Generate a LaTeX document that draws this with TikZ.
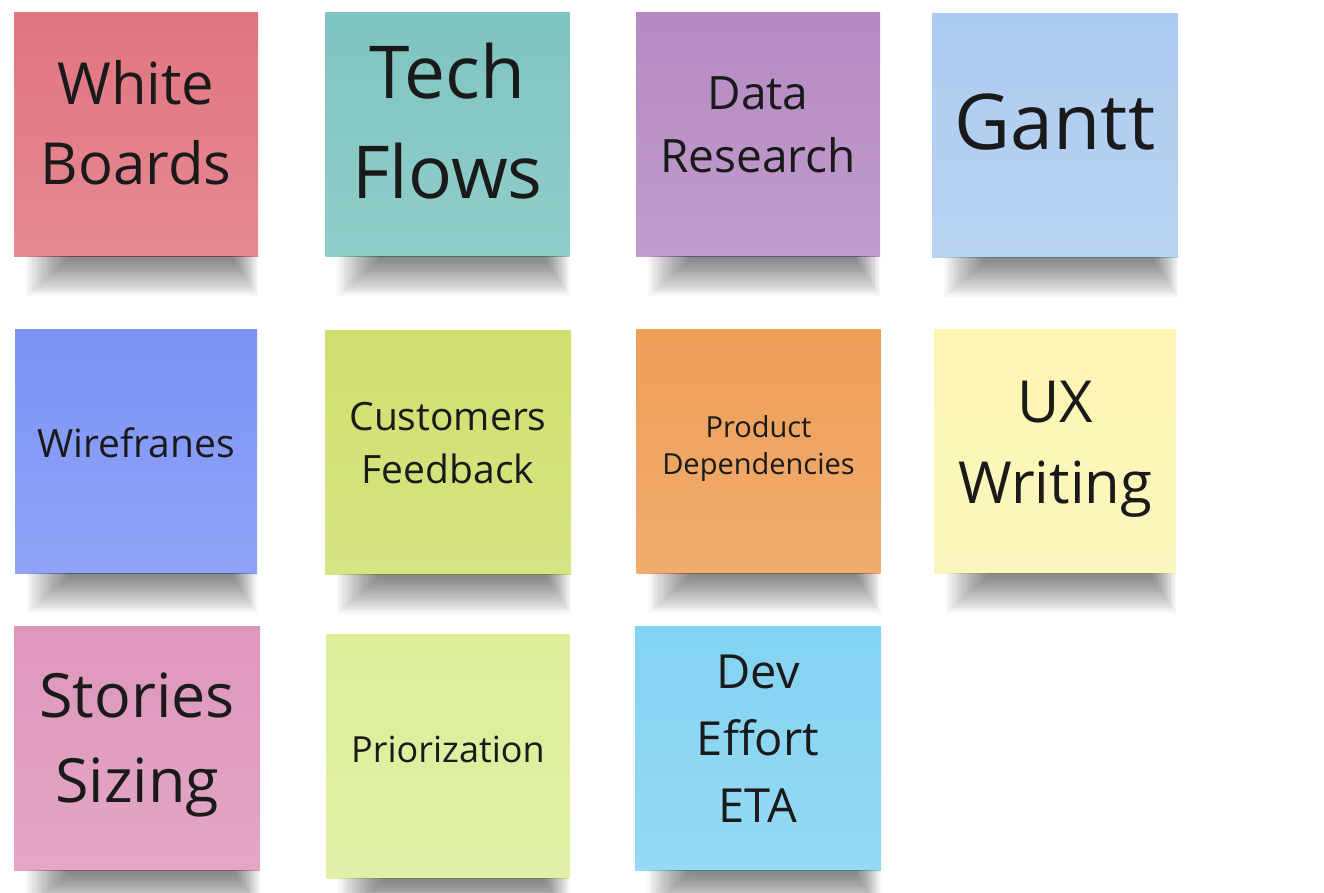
\documentclass[tikz,border=0pt]{standalone}
\usepackage{fontspec}
\setmainfont{Open Sans}
\definecolor{notered}{HTML}{E17580}
\definecolor{noteteal}{HTML}{7EC4C0}
\definecolor{notepurple}{HTML}{B58AC3}
\definecolor{noteblue}{HTML}{ADCBF0}
\definecolor{noteperi}{HTML}{7D93F6}
\definecolor{notelime}{HTML}{D0DF6E}
\definecolor{noteorange}{HTML}{EE9E57}
\definecolor{noteyellow}{HTML}{FCF5B3}
\definecolor{notepink}{HTML}{DE97BB}
\definecolor{notepale}{HTML}{DBEE98}
\definecolor{notesky}{HTML}{83D3F2}
\definecolor{inkblack}{HTML}{1A1A1A}
% soft shadow under a sticky note, built from stacked layers
\newcommand{\noteshadow}[1]{%
  \foreach \k in {0,...,19} {
    \fill[black, opacity=0.026]
      ([xshift={12pt+2.2pt*\k}]#1.south west) rectangle
      ([xshift={0pt-1.3pt*\k}, yshift={-40pt+1.9pt*\k}]#1.south east);
  }}

\begin{document}
\begin{tikzpicture}[
  sticky/.style={minimum width=244pt, minimum height=244pt, inner sep=0pt,
    top color=#1, bottom color=#1!85!white},
  stickytext/.style={align=center, inner sep=0pt, text=inkblack, font=#1}
]
  \useasboundingbox[fill=white] (0,0) rectangle (1324pt,-892pt);

  % First row
  \node[sticky=notered] (white) at (136pt,-134pt) {};
  \node[stickytext=\fontsize{58}{80}\selectfont] (whiteT) at ([yshift=11pt]white.center) {White\\Boards};

  \node[sticky=noteteal] (tech) at (447.5pt,-134pt) {};
  \node[stickytext=\fontsize{73}{100}\selectfont] (techT) at ([yshift=13pt]tech.center) {Tech\\Flows};

  \node[sticky=notepurple] (data) at (758pt,-134pt) {};
  \node[stickytext=\fontsize{46}{63}\selectfont] (dataT) at ([yshift=9pt]data.center) {Data\\Research};

  \node[sticky=noteblue, minimum width=246pt] (gantt) at (1055pt,-135pt) {};
  \node[stickytext=\fontsize{77}{100}\selectfont] (ganttT) at ([yshift=13pt]gantt.center) {Gantt};

  % Second row
  \node[sticky=noteperi, minimum width=242pt] (wire) at (136pt,-451pt) {};
  \node[stickytext=\fontsize{39}{54}\selectfont] (wireT) at ([yshift=8pt]wire.center) {Wirefranes};

  \node[sticky=notelime, minimum width=246pt] (cust) at (448pt,-452pt) {};
  \node[stickytext=\fontsize{39}{53}\selectfont] (custT) at ([yshift=9pt]cust.center) {Customers\\Feedback};

  \node[sticky=noteorange] (prod) at (758.5pt,-451pt) {};
  \node[stickytext=\fontsize{29}{37}\selectfont] (prodT) at ([yshift=3pt]prod.center) {Product\\Dependencies};

  \node[sticky=noteyellow, minimum width=242pt] (ux) at (1055pt,-451pt) {};
  \node[stickytext=\fontsize{58}{81}\selectfont] (uxT) at ([yshift=2pt]ux.center) {UX\\Writing};

  % Third row
  \node[sticky=notepink, minimum width=246pt] (story) at (137pt,-748pt) {};
  \node[stickytext=\fontsize{61}{85}\selectfont] (storyT) at ([yshift=3.5pt]story.center) {Stories\\Sizing};

  \node[sticky=notepale, minimum width=243pt] (prio) at (448pt,-756pt) {};
  \node[stickytext=\fontsize{36}{49}\selectfont] (prioT) at ([yshift=6.5pt]prio.center) {Priorization};

  \node[sticky=notesky, minimum width=246pt] (dev) at (758pt,-748pt) {};
  \node[stickytext=\fontsize{47}{67}\selectfont] (devT) at ([yshift=9pt]dev.center) {Dev\\Effort\\ETA};

  % Shadows below the notes
  \foreach \n in {white, tech, data, gantt, wire, cust, prod, ux, story, prio, dev}
    {\noteshadow{\n}}
\end{tikzpicture}
\end{document}
